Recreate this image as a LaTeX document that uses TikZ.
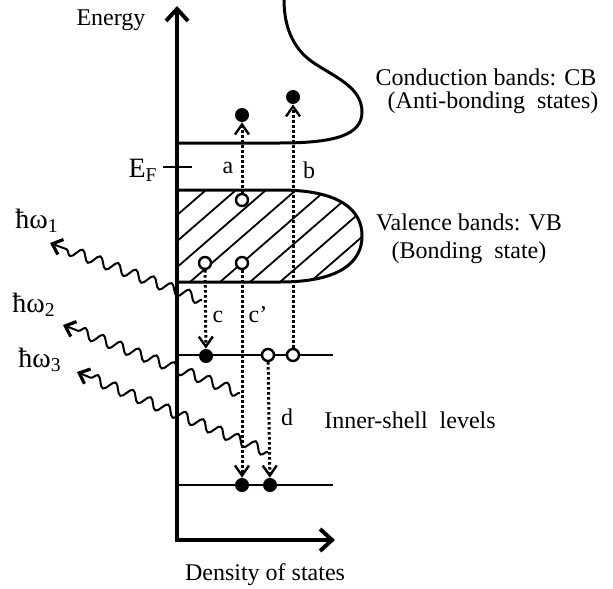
\documentclass[tikz,border=0pt]{standalone}
\usepackage{fontspec}
\setmainfont{Liberation Serif}
\usetikzlibrary{arrows.meta,decorations.pathmorphing}

\begin{document}
\begin{tikzpicture}[x=0.5pt,y=-0.5pt,
    font=\fontsize{12}{14}\selectfont,
    big/.style={font=\fontsize{14}{16}\selectfont},
    axis/.style={line width=2pt,-{Straight Barb[length=6pt,width=11pt,line width=2pt]}},
    band/.style={line width=1.5pt},
    level/.style={line width=1pt},
    full/.style={circle,fill,inner sep=0pt,minimum size=7pt},
    hole/.style={circle,draw,fill=white,line width=1.2pt,inner sep=0pt,minimum size=6pt},
    trans/.style={line width=1.5pt,dash pattern=on 1.2pt off 1.3pt,
        -{Straight Barb[length=5pt,width=7pt,line width=1.2pt]}},
    photon/.style={line width=1pt,decorate,
        decoration={snake,segment length=9.5pt,amplitude=2.6pt,post length=5pt},
        -{Straight Barb[length=4.5pt,width=8pt,line width=1.6pt]}}]
    \useasboundingbox (0,0) rectangle (613,588);

    % axes
    \coordinate (O) at (177,540);
    \draw[axis] (177,542) -- (177,6);
    \draw[axis] (176,540) -- (335,540);
    \node (energy) at (111,20) {Energy};
    \node (dos) at (265,575) {Density of states};

    % valence band (hatched)
    \begin{scope}
        \clip (177,190) -- (280,190) .. controls (340,190) and (362,210) .. (362,236)
            .. controls (362,262) and (340,282) .. (280,282) -- (177,282) -- cycle;
        \foreach \x in {100,130,...,400}
            \draw[line width=0.9pt] (\x,282) -- ++(106,-92);
    \end{scope}
    \draw[band] (177,190) -- (280,190) .. controls (340,190) and (362,210) .. (362,236)
        .. controls (362,262) and (340,282) .. (280,282) -- (177,282);

    % conduction band
    \draw[band] (177,143) -- (280,143) .. controls (335,143) and (362,135) .. (362,112)
        .. controls (362,86) and (332,76) .. (311,61)
        .. controls (292,47) and (284,25) .. (284,0);

    % Fermi level
    \draw[level] (163,167) -- (192,167);
    \node[big,anchor=east,inner sep=1pt] (ef) at (160,170) {E\textsubscript{F}};

    % inner-shell levels
    \draw[level] (177,355) -- (333,355);
    \draw[level] (177,485) -- (333,485);

    % electrons and holes
    \node[full] (ea) at (242,115) {};
    \node[full] (eb) at (293,97) {};
    \node[hole] (ha) at (242,200) {};
    \node[hole] (hc) at (205,263) {};
    \node[hole] (hcc) at (242,263) {};
    \node[full] (ec) at (206,356) {};
    \node[hole] (hd) at (268,355) {};
    \node[hole] (hb) at (293,355) {};
    \node[full] (ecc) at (242,485) {};
    \node[full] (ed) at (270,485) {};

    % transitions
    \draw[trans] (ha) -- (ea);
    \draw[trans] (hb) -- (eb);
    \draw[trans] (hc) -- (ec);
    \draw[trans] (hcc) -- (ecc);
    \draw[trans] (hd) -- (ed);
    \node (la) at (228,168) {a};
    \node (lb) at (309,170) {b};
    \node (lc) at (218,317) {c};
    \node (lcc) at (258,315) {c’};
    \node (ld) at (287,417) {d};

    % emitted photons
    \coordinate (w1) at (202,300);
    \coordinate (w2) at (240,393);
    \coordinate (w3) at (268,452);
    \node[big] (p1) at (37,221) {ħω\textsubscript{1}};
    \node[big] (p2) at (34,305) {ħω\textsubscript{2}};
    \node[big] (p3) at (40,360) {ħω\textsubscript{3}};
    \draw[photon] (w1) -- (50,243);
    \draw[photon] (w2) -- (63,325);
    \draw[photon] (w3) -- (77,372);

    % band labels
    \node (cb) at (486,77) {Conduction bands: CB};
    \node (cbs) at (493,103) {(Anti-bonding\ \ states)};
    \node (vb) at (469,222) {Valence bands: VB};
    \node (vbs) at (469,253) {(Bonding\ \ state)};
    \node (inner) at (410,420) {Inner-shell\ \ levels};
\end{tikzpicture}
\end{document}
